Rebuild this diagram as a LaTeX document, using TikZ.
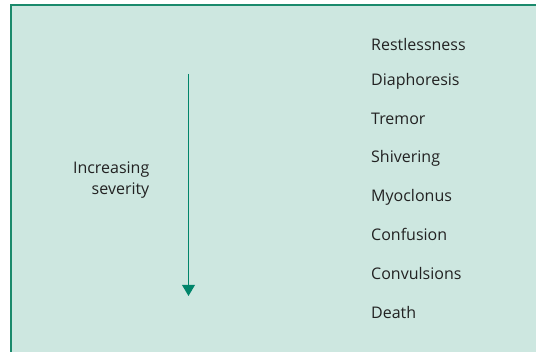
\documentclass[tikz,border=0pt]{standalone}
\usepackage{fontspec}
\setmainfont{Open Sans}
\usetikzlibrary{arrows.meta}
\definecolor{panelfill}{HTML}{CDE7E0}
\definecolor{panelline}{HTML}{1B8A6C}
\definecolor{arrowgreen}{HTML}{00856A}
\definecolor{inktext}{HTML}{222222}
\begin{document}
\begin{tikzpicture}[x=1pt,y=-1pt,
  symptom/.style={anchor=base west,inner sep=0pt,text=inktext,font=\fontsize{16}{19}\selectfont},
  sidelabel/.style={anchor=base east,inner sep=0pt,text=inktext,font=\fontsize{16}{19}\selectfont},
  severityarrow/.style={draw=arrowgreen,line width=1.3pt,-{Triangle[width=12.7pt,length=11pt]}}]
  \useasboundingbox (0,0) rectangle (536,352);
  % panel background, framed on the left and top only
  \fill[panelfill] (11,5) rectangle (536,352);
  \draw[panelline,line width=2pt] (11,352) -- (11,5) -- (536,5);
  % symptom list
  \node[symptom] (s1) at (371,50.7) {Restlessness};
  \node[symptom] (s2) at (371,86) {Diaphoresis};
  \node[symptom] (s3) at (371,124.3) {Tremor};
  \node[symptom] (s4) at (371,162.7) {Shivering};
  \node[symptom] (s5) at (371,202) {Myoclonus};
  \node[symptom] (s6) at (371,241) {Confusion};
  \node[symptom] (s7) at (371,280) {Convulsions};
  \node[symptom] (s8) at (371,318.7) {Death};
  % severity label and arrow
  \node[sidelabel] (l1) at (149.5,173.3) {Increasing};
  \node[sidelabel] (l2) at (149.5,195) {severity};
  \coordinate (atop) at (188.5,74);
  \coordinate (abot) at (188.5,296);
  \draw[severityarrow] (atop) -- (abot);
\end{tikzpicture}
\end{document}
